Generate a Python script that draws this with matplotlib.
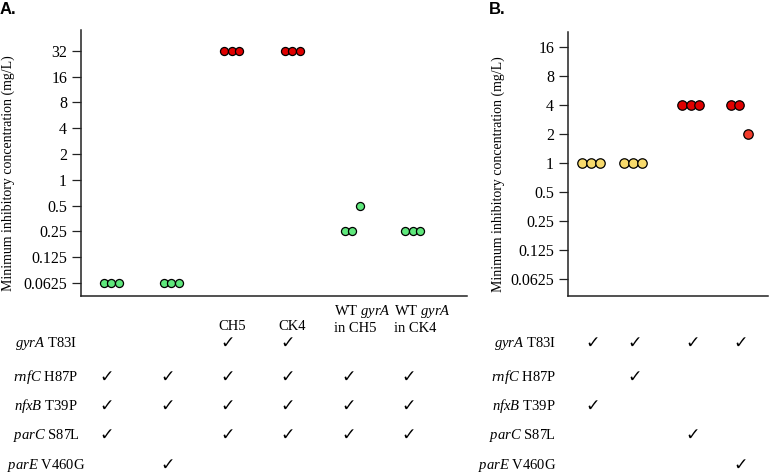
import matplotlib
matplotlib.use("Agg")
import matplotlib.pyplot as plt
import matplotlib.transforms as mtransforms
from matplotlib.ticker import FixedLocator, FixedFormatter, NullLocator

# ---- data ----
# panel A: MIC replicates per strain
mic_a = [
    [0.0625, 0.0625, 0.0625],
    [0.0625, 0.0625, 0.0625],
    [32, 32, 32],
    [32, 32, 32],
    [0.25, 0.25, 0.5],
    [0.25, 0.25, 0.25],
]
color_a = ["#5fe87c", "#5fe87c", "#e00000", "#e00000", "#5fe87c", "#5fe87c"]
header_a = ["", "", "CH5", "CK4", "WT $\\it{gyrA}$\nin CH5", "WT $\\it{gyrA}$\nin CK4"]

# panel B
mic_b = [
    [1, 1, 1],
    [1, 1, 1],
    [4, 4, 4],
    [4, 4, 2],
]
color_b = [
    ["#f7da6c"] * 3,
    ["#f7da6c"] * 3,
    ["#e00000"] * 3,
    ["#e00000", "#e00000", "#f23c2c"],
]

mutations = [("gyrA", "T83I"), ("rnfC", "H87P"), ("nfxB", "T39P"),
             ("parC", "S87L"), ("parE", "V460G")]

checks_a = [
    [0, 0, 1, 1, 0, 0],
    [1, 1, 1, 1, 1, 1],
    [1, 1, 1, 1, 1, 1],
    [1, 0, 1, 1, 1, 1],
    [0, 1, 0, 0, 0, 0],
]
checks_b = [
    [1, 1, 1, 1],
    [0, 1, 0, 0],
    [1, 0, 0, 0],
    [0, 0, 1, 0],
    [0, 0, 0, 1],
]

ticks_a = [0.0625, 0.125, 0.25, 0.5, 1, 2, 4, 8, 16, 32]
ticks_b = [0.0625, 0.125, 0.25, 0.5, 1, 2, 4, 8, 16]
tick_labels_a = ["0.0625", "0.125", "0.25", "0.5", "1", "2", "4", "8", "16", "32"]
tick_labels_b = ["0.0625", "0.125", "0.25", "0.5", "1", "2", "4", "8", "16"]

# ---- layout ----
W, H = 770, 473
serif = ["Liberation Serif", "DejaVu Serif"]
plt.rcParams["font.family"] = serif
plt.rcParams["mathtext.fontset"] = "custom"
plt.rcParams["mathtext.it"] = "Liberation Serif:italic"
plt.rcParams["mathtext.rm"] = "Liberation Serif"

fig = plt.figure(figsize=(W / 100, H / 100), dpi=100)


def px(x, y):
    return x / W, 1 - y / H


pos_a = [0, 1, 2, 3, 4, 5]
pos_b = [0, 1, 2.36, 3.52]
row_y = [343, 377, 406, 435, 465]


def style_axes(ax, ticks, labels):
    ax.set_yscale("log", base=2)
    ax.yaxis.set_major_locator(FixedLocator(ticks))
    ax.yaxis.set_major_formatter(FixedFormatter(labels))
    ax.yaxis.set_minor_locator(NullLocator())
    ax.set_xticks([])
    for s in ["top", "right"]:
        ax.spines[s].set_visible(False)
    for s in ["left", "bottom"]:
        ax.spines[s].set_linewidth(1.1)
        ax.spines[s].set_color("#222222")
    ax.tick_params(axis="y", length=6.5, width=0.9, pad=3.5, labelsize=11.5,
                   color="#222222")


# Panel A
ax_a = fig.add_axes([81 / W, 1 - 296 / H, (467 - 81) / W, (296 - 30) / H])
for i, vals in enumerate(mic_a):
    xs = [pos_a[i] + (k - 1) * 0.125 for k in range(3)]
    ax_a.plot(xs, vals, "o", ms=5.8, mfc=color_a[i], mec="black", mew=0.9,
              zorder=3, clip_on=False)
style_axes(ax_a, ticks_a, tick_labels_a)
ax_a.set_xlim(-0.5, 5.9)
ax_a.set_ylim(2 ** -4.5, 2 ** 5.81)

# Panel B
ax_b = fig.add_axes([568 / W, 1 - 296 / H, (768 - 568) / W, (296 - 32) / H])
for i, vals in enumerate(mic_b):
    xs = [pos_b[i] + (k - 1) * 0.21 for k in range(3)]
    for x, v, c in zip(xs, vals, color_b[i]):
        ax_b.plot(x, v, "o", ms=6.8, mfc=c, mec="black", mew=0.9,
                  zorder=3, clip_on=False)
style_axes(ax_b, ticks_b, tick_labels_b)
ax_b.set_xlim(-0.55, 4.2)
ax_b.set_ylim(2 ** -4.59, 2 ** 4.52)

# y labels
fig.text(*px(8, 173), "Minimum inhibitory concentration (mg/L)", rotation=90,
         ha="center", va="center", fontsize=10)
fig.text(*px(498, 174), "Minimum inhibitory concentration (mg/L)", rotation=90,
         ha="center", va="center", fontsize=10)

# panel letters
fig.text(*px(0, 10), "A.", fontsize=12, fontweight="bold",
         family=["Liberation Sans"], ha="left", va="center")
fig.text(*px(489, 10), "B.", fontsize=12, fontweight="bold",
         family=["Liberation Sans"], ha="left", va="center")

# table under A
tr_a = mtransforms.blended_transform_factory(ax_a.transData, fig.transFigure)
tr_b = mtransforms.blended_transform_factory(ax_b.transData, fig.transFigure)
for i, h in enumerate(header_a):
    if not h:
        continue
    if "\n" in h:
        fig.text(pos_a[i] - 0.31, 1 - 319 / H, h, transform=tr_a, ha="left",
                 va="center", fontsize=10.5, linespacing=1.15)
    else:
        fig.text(pos_a[i], 1 - 327 / H, h, transform=tr_a, ha="center",
                 va="center", fontsize=10.5)

for r, (gene, mut) in enumerate(mutations):
    label = "$\\it{" + gene + "}$ " + mut
    fig.text(*px(46, row_y[r]), label, ha="center", va="center", fontsize=10.5)
    fig.text(*px(556, row_y[r]), label, ha="right", va="center", fontsize=10.5)

for r in range(len(mutations)):
    for c, on in enumerate(checks_a[r]):
        if on:
            fig.text(pos_a[c] - 0.07, 1 - row_y[r] / H, "\u2713", transform=tr_a,
                     ha="center", va="center", fontsize=12.5,
                     family=["DejaVu Sans"])
    for c, on in enumerate(checks_b[r]):
        if on:
            fig.text(pos_b[c] + 0.04, 1 - row_y[r] / H, "\u2713", transform=tr_b,
                     ha="center", va="center", fontsize=12.5,
                     family=["DejaVu Sans"])

fig.savefig("out.png", dpi=100)
